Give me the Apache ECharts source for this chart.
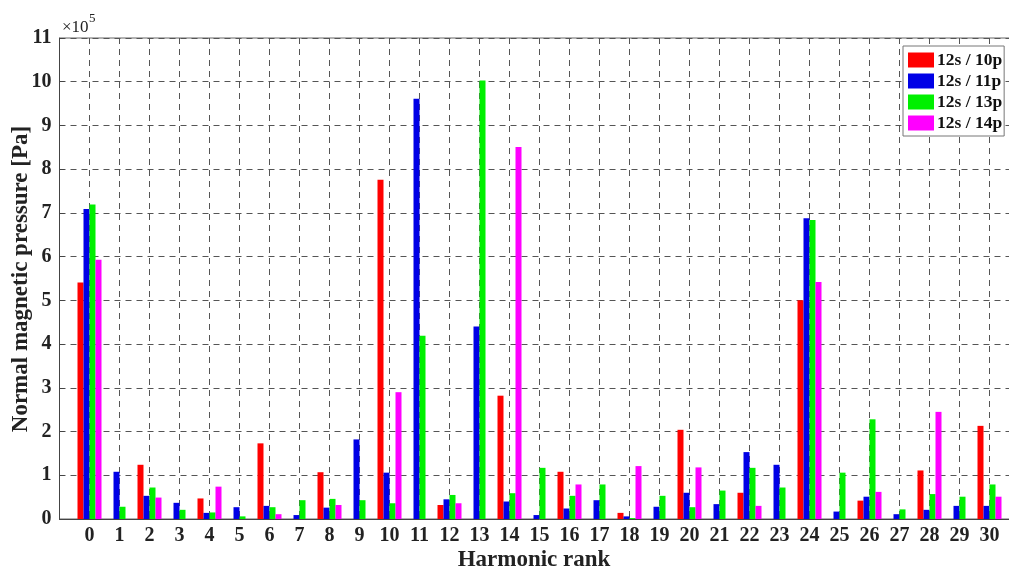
<!DOCTYPE html>
<html>
<head>
<meta charset="utf-8">
<script src="https://cdn.jsdelivr.net/npm/echarts@6/dist/echarts.min.js"></script>
<style>
html,body{margin:0;padding:0;background:#fff;overflow:hidden;width:1009px;height:569px;}
#chart{width:1030px;height:569px;}
</style>
</head>
<body>
<div id="chart"></div>
<script>
// Harmonic ranks (x categories)
const harmonics = ['0','1','2','3','4','5','6','7','8','9','10','11','12','13','14','15','16','17','18','19','20','21','22','23','24','25','26','27','28','29','30'];
// Values in units of 1e5 Pa
const s12p10 = [5.41,0,1.24,0,0.47,0,1.73,0,1.07,0,7.76,0,0.32,0,2.82,0,1.08,0,0.14,0,2.04,0,0.60,0,5.00,0,0.42,0,1.11,0,2.13];
const s12p11 = [7.09,1.08,0.53,0.37,0.14,0.27,0.30,0.09,0.26,1.82,1.06,9.61,0.45,4.40,0.40,0.09,0.24,0.43,0.06,0.28,0.60,0.34,1.53,1.24,6.88,0.17,0.51,0.11,0.21,0.30,0.30];
const s12p13 = [7.19,0.28,0.72,0.21,0.15,0.06,0.27,0.43,0.46,0.43,0.36,4.19,0.55,10.03,0.59,1.17,0.53,0.79,0.02,0.53,0.27,0.65,1.17,0.72,6.84,1.06,2.28,0.22,0.57,0.51,0.79];
const s12p14 = [5.93,0,0.49,0,0.74,0,0.11,0,0.32,0,2.90,0,0.36,0,8.51,0,0.79,0,1.21,0,1.18,0,0.30,0,5.42,0,0.62,0,2.45,0,0.51];
const seriesNames = ['12s / 10p','12s / 11p','12s / 13p','12s / 14p'];
const seriesColors = ['#ff0000','#0000e6','#00f000','#ff00ff'];
const yTicks = [0,1,2,3,4,5,6,7,8,9,10,11];

const axisCats = ['-1'].concat(harmonics, ['31']);
const pad = arr => [null].concat(arr, [null]);
const allData = [s12p10, s12p11, s12p13, s12p14];

const font = '"Liberation Serif", "DejaVu Serif", serif';
const chart = echarts.init(document.getElementById('chart'), null, {renderer:'canvas'});
chart.setOption({
  animation:false,
  backgroundColor:'#fff',
  grid:{left:59.5, top:38, width:960, height:481, show:true, borderColor:'#666', borderWidth:1, containLabel:false},
  legend:{
    orient:'vertical', left:903, top:46,
    itemWidth:26, itemHeight:15, itemGap:3,
    padding:[5,2,4,5],
    borderColor:'#777', borderWidth:1, backgroundColor:'#fff',
    icon:'rect',
    textStyle:{fontFamily:font, fontWeight:'bold', fontSize:17.5, color:'#111', padding:[0,0,0,-2]},
    data:seriesNames
  },
  xAxis:{
    type:'category', data:axisCats, boundaryGap:false,
    axisLine:{lineStyle:{color:'#444', width:1}},
    axisTick:{show:true, inside:true, length:5, lineStyle:{color:'#444'}, interval:0},
    axisLabel:{interval:0, margin:7, fontFamily:font, fontWeight:'bold', fontSize:20, color:'#222',
      formatter:v => (v==='-1'||v==='31') ? '' : v},
    splitLine:{show:true, interval:0, lineStyle:{color:'#555', type:[6,5], width:1}}
  },
  yAxis:{
    type:'value', min:yTicks[0], max:yTicks[yTicks.length-1], interval:1,
    axisLine:{show:true, lineStyle:{color:'#444', width:1}},
    axisTick:{show:true, inside:true, length:5, lineStyle:{color:'#444'}},
    axisLabel:{margin:8, fontFamily:font, fontWeight:'bold', fontSize:20, color:'#222'},
    splitLine:{show:true, lineStyle:{color:'#555', type:[6,5], width:1}}
  },
  series: seriesNames.map((n,i)=>({
    name:n, type:'bar', data:pad(allData[i]),
    barWidth:6, barGap:'0%',
    itemStyle:{color:seriesColors[i]}
  })),
  graphic:[
    {type:'text', left:62, top:19, style:{text:'×10', font:'17px '+font, fill:'#222'}},
    {type:'text', left:89, top:12, style:{text:'5', font:'13px '+font, fill:'#222'}},
    {type:'text', x:21, y:279, rotation:Math.PI/2, style:{text:'Normal magnetic pressure [Pa]', font:'bold 23px '+font, fill:'#222', textAlign:'center', textVerticalAlign:'middle'}},
    {type:'text', x:534, y:560, style:{text:'Harmonic rank', font:'bold 23px '+font, fill:'#222', textAlign:'center', textVerticalAlign:'middle'}}
  ]
});
</script>
</body>
</html>
